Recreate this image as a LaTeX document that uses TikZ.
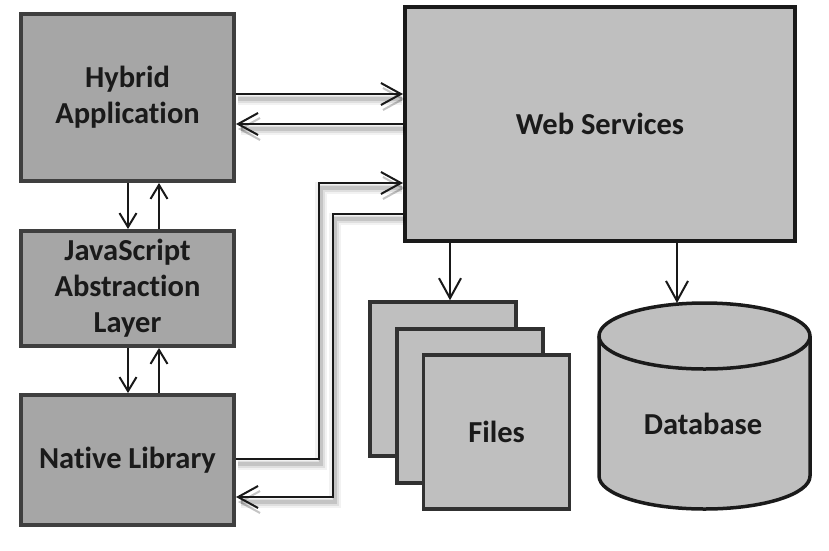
\documentclass[tikz,border=0pt]{standalone}
\usepackage{fontspec}
\setmainfont{Carlito}[Ligatures=NoCommon]
\usetikzlibrary{arrows.meta}
\definecolor{leftfill}{HTML}{A6A6A6}
\definecolor{leftdraw}{HTML}{3F3F3F}
\definecolor{lightfill}{HTML}{BFBFBF}
\definecolor{darkdraw}{HTML}{1A1A1A}
\begin{document}
\begin{tikzpicture}[x=1pt,y=-1pt,
  lbox/.style={draw=leftdraw, fill=leftfill, line width=4pt, minimum width=213pt,
    align=center, inner sep=0pt, text=darkdraw,
    font=\fontsize{30.5}{36}\selectfont\bfseries},
  wbox/.style={draw=darkdraw, fill=lightfill, line width=4pt, inner sep=0pt,
    align=center, text=darkdraw, font=\fontsize{30.5}{36}\selectfont\bfseries},
  fbox/.style={draw=darkdraw!90, fill=lightfill, line width=3.5pt, inner sep=0pt,
    minimum width=146pt, minimum height=154pt, align=center, text=darkdraw,
    font=\fontsize{30.5}{36}\selectfont\bfseries},
  txt/.style={text=darkdraw, font=\fontsize{30.5}{36}\selectfont\bfseries, inner sep=0pt},
  bigtip/.style={-{Straight Barb[length=20pt,width=22pt,line width=2pt]}},
  smalltip/.style={-{Straight Barb[length=14pt,width=17pt,line width=2pt]}},
  conn/.style={line width=2pt, draw=black!90,
    preaction={draw=black, opacity=0.05, line width=12pt, transform canvas={shift={(2pt,-5pt)}}},
    preaction={draw=black, opacity=0.08, line width=7pt, transform canvas={shift={(2pt,-5pt)}}},
    preaction={draw=black, opacity=0.12, line width=3.5pt, transform canvas={shift={(2pt,-5pt)}}}},
  plain/.style={line width=2pt, draw=black!90}
]
\useasboundingbox (0,0) rectangle (829,550);

% left column
\node[lbox, minimum height=167pt] (hyb) at (127.5,97.5) {Hybrid\\Application};
\node[lbox, minimum height=115pt] (js) at (127.5,288.5) {JavaScript\\Abstraction\\Layer};
\node[lbox, minimum height=130pt] (nat) at (127.5,460) {Native Library};

% web services
\node[wbox, minimum width=390pt, minimum height=234pt] (ws) at (600,124) {Web Services};

% files stack
\node[fbox] (f1) at (443,379) {};
\node[fbox] (f2) at (470,406) {};
\node[fbox] (files) at (496.5,432) {Files};

% database cylinder
\draw[draw=darkdraw, fill=lightfill, line width=3.5pt]
  (599,336) -- (599,476) arc[start angle=180, end angle=0, x radius=105.5, y radius=33]
  -- (810,336) arc[start angle=0, end angle=-180, x radius=105.5, y radius=33] -- cycle;
\draw[draw=darkdraw, line width=3.5pt]
  (599,336) arc[start angle=180, end angle=0, x radius=105.5, y radius=33];
\node[txt] (db) at (703,424) {Database};
\coordinate (dbtop) at (677,303);

% helper coordinates
\coordinate (ya) at (0,94);
\coordinate (yb) at (0,124);
\coordinate (k1) at (319,459);
\coordinate (k2) at (319,183);
\coordinate (k3) at (333,214);
\coordinate (k4) at (333,497);
\coordinate (dn) at (128,0);
\coordinate (up) at (159,0);
\coordinate (xf) at (450,0);
\coordinate (xd) at (677,0);

% hybrid <-> web services
\draw[conn, bigtip] (hyb.east |- ya) -- (ws.west |- ya);
\draw[conn, bigtip] (ws.west |- yb) -- (hyb.east |- yb);

% native <-> web services
\draw[conn, bigtip] (nat.east |- k1) -- (k1) -- (k2) -- (ws.west |- k2);
\draw[conn, bigtip] (ws.west |- k3) -- (k3) -- (k4) -- (nat.east |- k4);

% vertical left arrows
\draw[plain, smalltip] (hyb.south -| dn) -- (js.north -| dn);
\draw[plain, smalltip] (js.north -| up) -- (hyb.south -| up);
\draw[plain, smalltip] (js.south -| dn) -- (nat.north -| dn);
\draw[plain, smalltip] (nat.north -| up) -- (js.south -| up);

% web services -> storage
\draw[plain, bigtip] (ws.south -| xf) -- (f1.north -| xf);
\draw[plain, bigtip] (ws.south -| xd) -- (dbtop);
\end{tikzpicture}
\end{document}
